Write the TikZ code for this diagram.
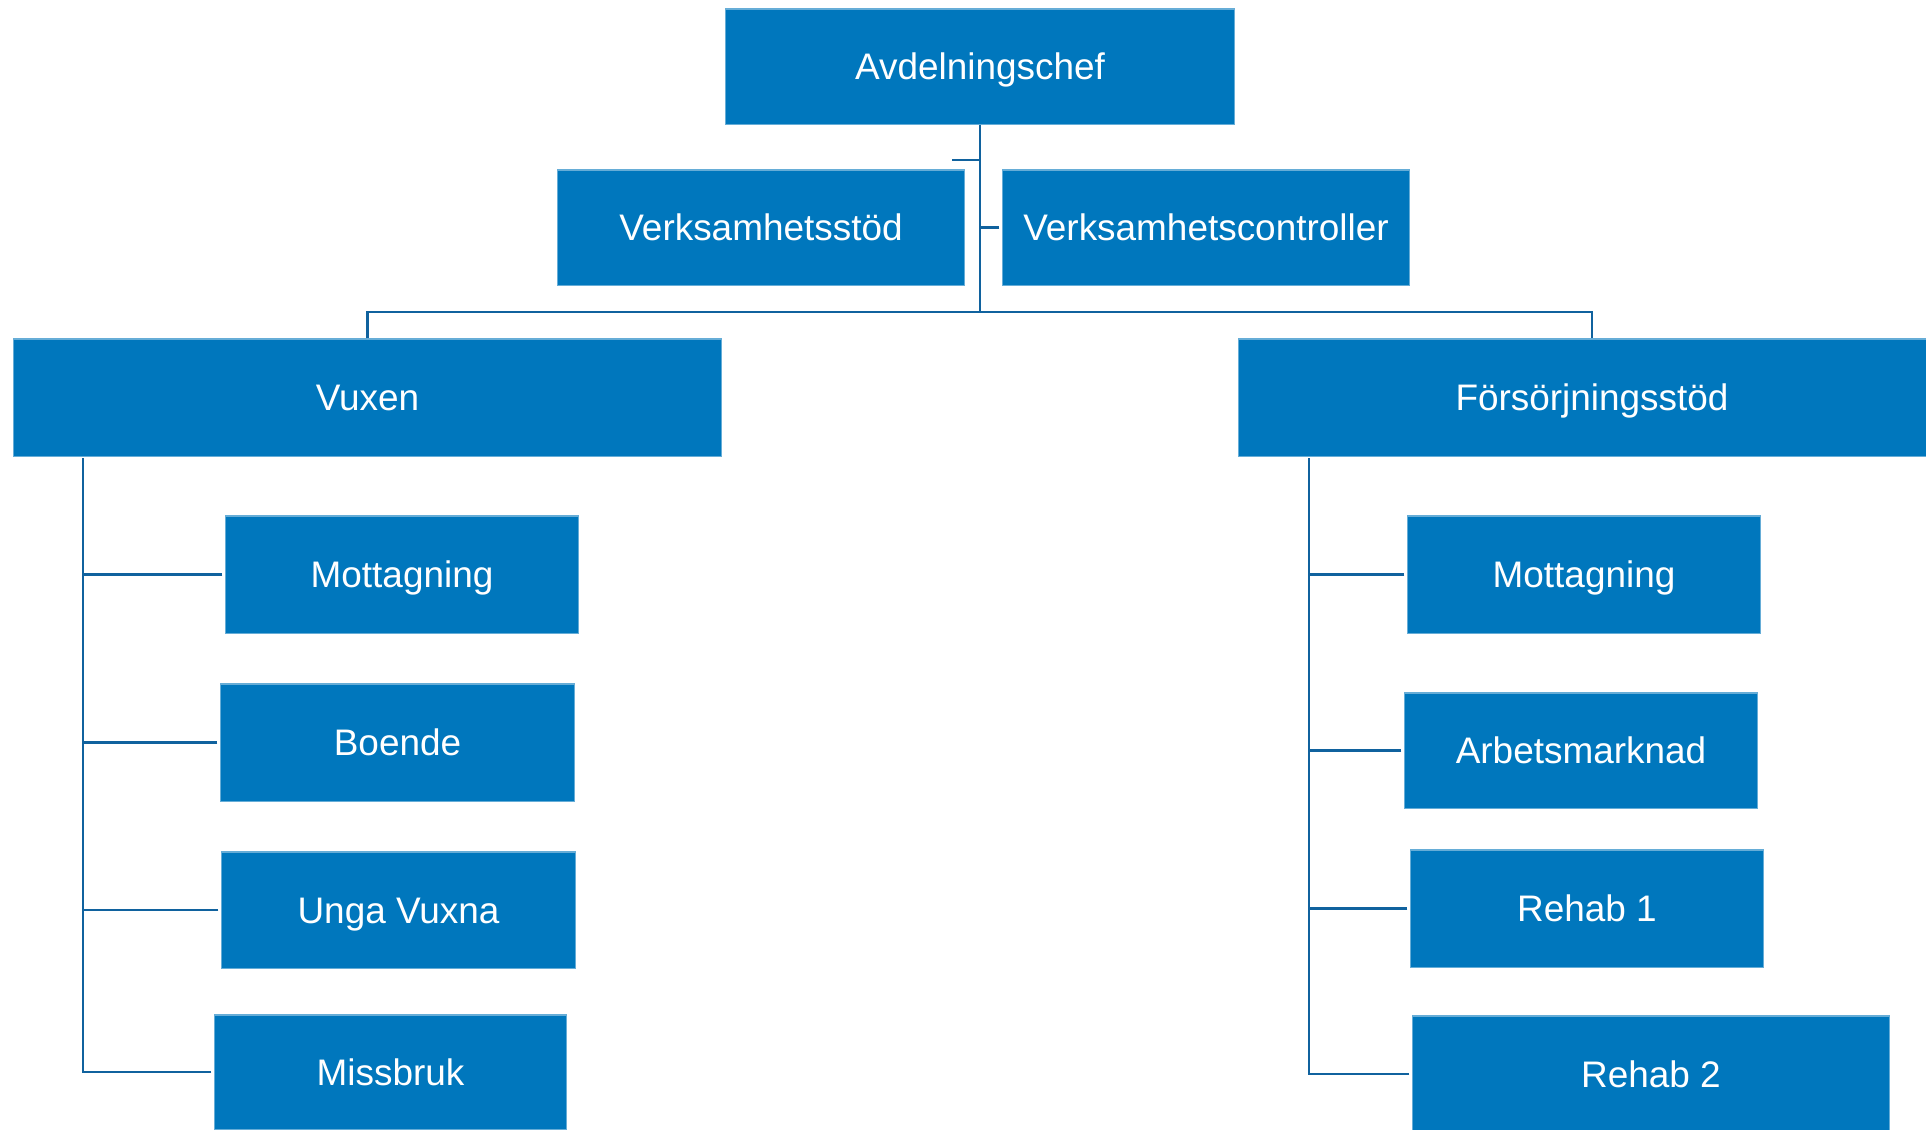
\documentclass[tikz,border=0pt]{standalone}
\usepackage{fontspec}
\setmainfont{Liberation Sans}
\definecolor{boxblue}{RGB}{0,119,189}
\definecolor{lineblue}{RGB}{16,98,158}
\tikzset{
    unit/.style={fill=boxblue, draw=boxblue!60!white, line width=0.3pt,
        text=white, font=\fontsize{10.5}{12}\selectfont, inner sep=0pt,
        text height=7.5pt, text depth=0pt},
    link/.style={draw=lineblue, line width=0.8pt}
}

\begin{document}
\begin{tikzpicture}[x=0.01cm, y=-0.01cm]
            \clip (0,0) rectangle (1926,1129);
            % top level
            \node[unit, minimum width=5.08cm, minimum height=1.15cm] (chef) at (980,66.5) {Avdelningschef};
            \node[unit, minimum width=4.06cm, minimum height=1.15cm] (stod) at (761,227.5) {Verksamhetsstöd};
            \node[unit, minimum width=4.06cm, minimum height=1.15cm] (ctrl) at (1206,227.5) {Verksamhetscontroller};
            % two sections
            \node[unit, minimum width=7.07cm, minimum height=1.17cm] (vuxen) at (367.5,397.5) {Vuxen};
            \node[unit, minimum width=7.06cm, minimum height=1.17cm] (fors) at (1592,397.5) {Försörjningsstöd};
            % Vuxen units
            \node[unit, minimum width=3.52cm, minimum height=1.17cm] (vmott) at (402,574.5) {Mottagning};
            \node[unit, minimum width=3.53cm, minimum height=1.17cm] (boende) at (397.5,742.5) {Boende};
            \node[unit, minimum width=3.53cm, minimum height=1.16cm] (unga) at (398.5,910) {Unga Vuxna};
            \node[unit, minimum width=3.51cm, minimum height=1.14cm] (missbruk) at (390.5,1072) {Missbruk};
            % Försörjningsstöd units
            \node[unit, minimum width=3.52cm, minimum height=1.17cm] (fmott) at (1584,574.5) {Mottagning};
            \node[unit, minimum width=3.52cm, minimum height=1.15cm] (arbete) at (1581,750.5) {Arbetsmarknad};
            \node[unit, minimum width=3.52cm, minimum height=1.17cm] (rehab1) at (1587,908.5) {Rehab 1};
            \node[unit, minimum width=4.76cm, minimum height=1.16cm] (rehab2) at (1651,1074) {Rehab 2};
            % connectors
            \coordinate (bar) at (980,312);
            \coordinate (stub) at (952,160);
            \coordinate (vtrunk) at (83,458);
            \coordinate (ftrunk) at (1309,458);
            \draw[link] (chef.south) -- (bar);
            \draw[link] (stub) -- (stub -| bar);
            \draw[link, shorten <=0.03cm] (ctrl.west) -- (ctrl.west -| bar);
            \draw[link] (vuxen.north) |- (fors.north |- bar) -- (fors.north);
            \draw[link, shorten <=0.03cm] (missbruk.west) -| (vtrunk);
            \foreach \n in {vmott,boende,unga}
                \draw[link, shorten <=0.03cm] (\n.west) -- (\n.west -| vtrunk);
            \draw[link, shorten <=0.03cm] (rehab2.west) -| (ftrunk);
            \foreach \n in {fmott,arbete,rehab1}
                \draw[link, shorten <=0.03cm] (\n.west) -- (\n.west -| ftrunk);
        \end{tikzpicture}
\end{document}
